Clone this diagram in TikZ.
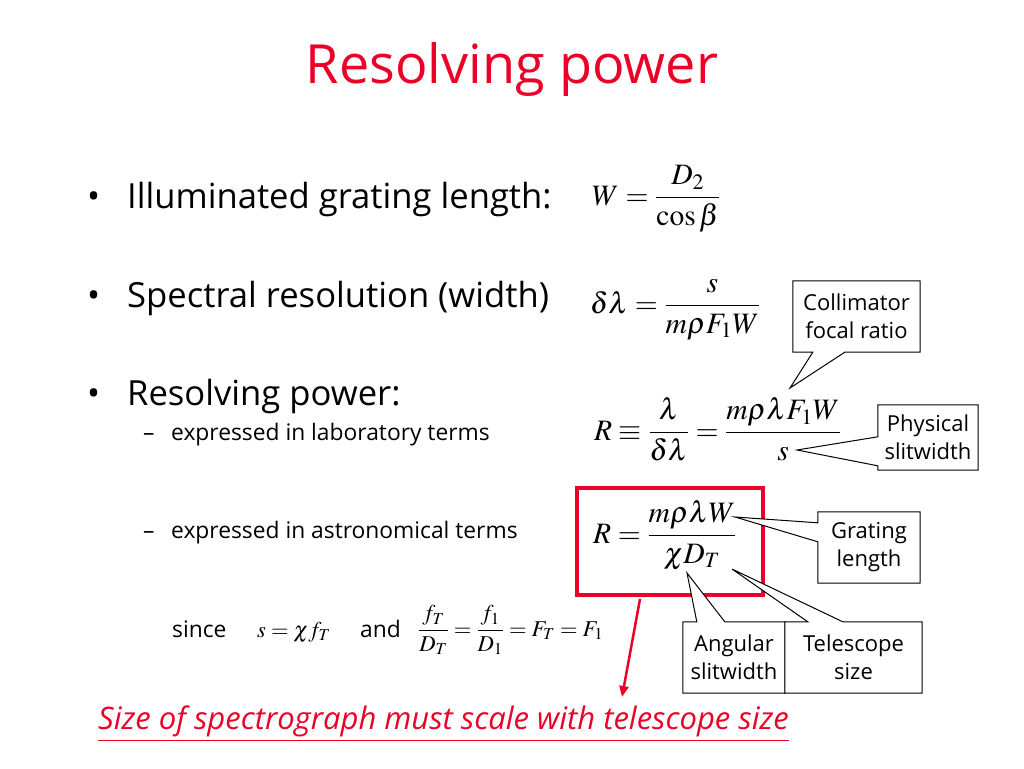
\documentclass[tikz,border=0pt]{standalone}
\usepackage{mathptmx}
\usepackage[no-math]{fontspec}
\setmainfont{Open Sans}
\usetikzlibrary{arrows.meta,calc}
\definecolor{ttlred}{RGB}{235,0,40}
\begin{document}
\begin{tikzpicture}[x=1pt,y=-1pt,
  bul/.style={anchor=base west, inner sep=0, font=\fontsize{34.6}{40}\selectfont},
  sub/.style={anchor=base west, inner sep=0, font=\fontsize{22.8}{27}\selectfont},
  eq/.style={anchor=base west, inner sep=0, font=\fontsize{29.6}{34}\selectfont},
  smalleq/.style={anchor=base west, inner sep=0, font=\fontsize{22.6}{26}\selectfont},
  cbox/.style={inner sep=0, align=center, font=\fontsize{22}{28}\selectfont},
  cline/.style={draw=black, line width=1pt, fill=white, line join=miter},
  redarrow/.style={draw=ttlred, line width=2.5pt, -{Triangle[length=11pt,width=9pt]}}]
\useasboundingbox[fill=white] (0,0) rectangle (1024,768);

% title
\node[anchor=base, inner sep=0, font=\fontsize{54}{60}\selectfont, text=ttlred] (title) at (512,83) {Resolving power};

% bullets
\node[bul] (b1dot) at (87,208) {•};
\node[bul] (b1) at (127,208) {Illuminated grating length:};
\node[bul] (b2dot) at (87,307) {•};
\node[bul] (b2) at (127,307) {Spectral resolution (width)};
\node[bul] (b3dot) at (87,405) {•};
\node[bul] (b3) at (127,405) {Resolving power:};
\node[sub] (s1dash) at (143,440) {–};
\node[sub] (s1) at (171,440) {expressed in laboratory terms};
\node[sub] (s2dash) at (143,538) {–};
\node[sub] (s2) at (171,538) {expressed in astronomical terms};
\node[sub] (since) at (172,637) {since};
\node[smalleq] (eqs) at (257,637) {$s=\chi f_T$};
\node[sub] (and) at (360,637) {and};
\node[smalleq] (eqf) at (418,636) {$\displaystyle \frac{f_T}{D_T}=\frac{f_1}{D_1}=F_T=F_1$};

% equations
\node[eq] (eqW) at (592,205) {$\displaystyle W=\frac{D_2}{\cos\beta}$};
\node[eq] (eqdl) at (590,313) {$\displaystyle \delta\lambda=\frac{s}{m\rho F_1W}$};
\node[eq] (eqR1) at (594,440) {$\displaystyle R\equiv\frac{\lambda}{\delta\lambda}=\frac{m\rho\lambda F_1W}{s}$};
\node[eq] (eqR2) at (593,543) {$\displaystyle R=\frac{m\rho\lambda W}{\chi D_T}$};

% red box and arrow
\node[draw=ttlred, line width=4pt, minimum width=186pt, minimum height=107pt, inner sep=0] (rbox) at (670,541.5) {};
\coordinate (arrtip) at (622,697);
\draw[redarrow] ($(rbox.south)+(-30,2)$) -- (arrtip);

% callouts
\coordinate (collTip) at (790,388);
\coordinate (physTip) at (797,450);
\coordinate (gratTip) at (735,517);
\coordinate (angTip) at (687,573);
\coordinate (telTip) at (732,569);

\node[cbox, minimum width=127pt, minimum height=71pt] (coll) at (856.5,316.5) {};
\draw[cline] (coll.south west) -- (coll.north west) -- (coll.north east) -- (coll.south east)
  -- ($(coll.south west)+(52,0)$) -- (collTip) -- ($(coll.south west)+(20,0)$) -- cycle;
\node[cbox] at (coll) {Collimator\\focal ratio};

\node[cbox, minimum width=100pt, minimum height=65pt] (phys) at (928,437.5) {};
\draw[cline] (phys.north west) -- (phys.north east) -- (phys.south east) -- (phys.south west)
  -- ($(phys.north west)+(0,61)$) -- (physTip) -- ($(phys.north west)+(0,32)$) -- cycle;
\node[cbox] at (phys) {Physical\\slitwidth};

\node[cbox, minimum width=102pt, minimum height=71pt] (grat) at (869,547.5) {};
\draw[cline] (grat.north west) -- (grat.north east) -- (grat.south east) -- (grat.south west)
  -- ($(grat.north west)+(0,30)$) -- (gratTip) -- ($(grat.north west)+(0,11)$) -- cycle;
\node[cbox] at (grat) {Grating\\length};

\node[cbox, minimum width=102pt, minimum height=71pt] (ang) at (734,657.5) {};
\draw[cline] (ang.north west) -- ($(ang.north west)+(14,0)$) -- (angTip) -- ($(ang.north west)+(42,0)$)
  -- (ang.north east) -- (ang.south east) -- (ang.south west) -- cycle;
\node[cbox] at (ang) {Angular\\slitwidth};

\node[cbox, minimum width=137pt, minimum height=71pt] (tel) at (853.5,657.5) {};
\draw[cline] (tel.north west) -- ($(tel.north west)+(23,0)$) -- (telTip) -- ($(tel.north west)+(58,0)$)
  -- (tel.north east) -- (tel.south east) -- (tel.south west) -- cycle;
\node[cbox] at (tel) {Telescope\\size};

% bottom line
\node[anchor=base west, inner sep=0, text=ttlred, font=\fontsize{31}{34}\selectfont\itshape] (concl) at (98,729)
  {\underline{Size of spectrograph must scale with telescope size}};
\end{tikzpicture}
\end{document}
